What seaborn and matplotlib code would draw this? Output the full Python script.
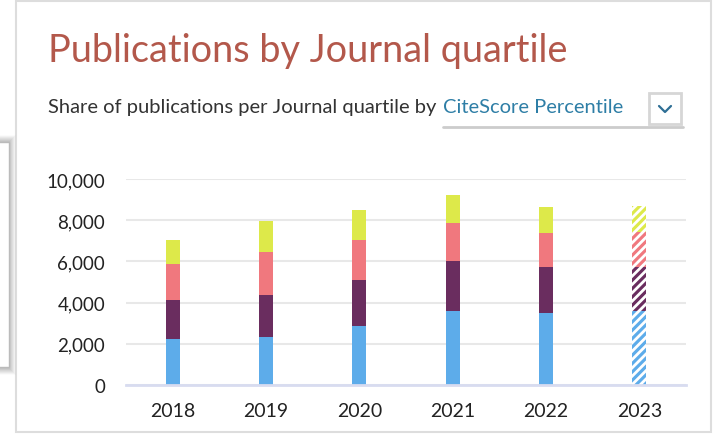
import numpy as np
import pandas as pd
import matplotlib.pyplot as plt
from matplotlib.patches import Rectangle
import matplotlib.lines as mlines
import seaborn as sns

# data
years = ['2018', '2019', '2020', '2021', '2022', '2023']
q1 = [2220, 2350, 2880, 3590, 3510, 3590]
q2 = [1890, 2020, 2220, 2410, 2230, 2150]
q3 = [1760, 2100, 1960, 1850, 1640, 1700]
q4 = [1180, 1500, 1440, 1370, 1250, 1250]
quartiles = ['Q1', 'Q2', 'Q3', 'Q4']
colors = ['#5dacea', '#6a2d5f', '#f0787e', '#dde94a']
yticks = [0, 2000, 4000, 6000, 8000, 10000]

sns.set_theme(style='white')
plt.rcParams['font.family'] = ['Lato', 'DejaVu Sans']
plt.rcParams['hatch.linewidth'] = 2.0

df = pd.DataFrame({'year': years, 'Q1': q1, 'Q2': q2, 'Q3': q3, 'Q4': q4})
cum = df[quartiles].cumsum(axis=1)

W, H = 713, 435
fig = plt.figure(figsize=(W / 100, H / 100), dpi=100)
fig.patch.set_facecolor('white')

ax = fig.add_axes([126 / W, 1 - 386 / H, 560 / W, 206 / H])

# stacked bars: draw the cumulative totals from top down
for q, c in reversed(list(zip(quartiles, colors))):
    sns.barplot(x=df['year'], y=cum[q], color=c, width=0.15, saturation=1,
                ax=ax, linewidth=0, edgecolor='none')

# 2023 is partial -> hatched
for p in ax.patches:
    if abs(p.get_x() + p.get_width() / 2 - 5) < 0.01:
        p.set_hatch('////')
        p.set_edgecolor('white')
        p.set_linewidth(0)

ax.set_xlim(-0.5, 5.5)
ax.set_ylim(0, 10000)
ax.set_yticks(yticks)
ax.set_yticklabels([f'{v:,}' for v in yticks])
ax.set_xlabel('')
ax.set_ylabel('')
ax.grid(axis='y', color='#e8e8e8', linewidth=1.5)
ax.set_axisbelow(True)
for s in ['top', 'right', 'left']:
    ax.spines[s].set_visible(False)
ax.spines['bottom'].set_color('#d8dcf0')
ax.spines['bottom'].set_linewidth(2)
ax.tick_params(axis='y', length=0, pad=15, labelsize=13.5, labelcolor='#222222')
ax.tick_params(axis='x', length=0, pad=12, labelsize=14, labelcolor='#222222')

# card border
fig.add_artist(Rectangle((16 / W, 1 - 433 / H), (711 - 16) / W, (433 - 2) / H,
                         transform=fig.transFigure, fill=False,
                         edgecolor='#dddddd', linewidth=1.5))

# partial card on the left with a soft shadow
for i, a in enumerate(np.linspace(0.35, 0.03, 7)):
    fig.add_artist(Rectangle((-10 / W, 1 - (369 + i) / H), (19 + i) / W, (226 + 2 * i) / H,
                             transform=fig.transFigure, facecolor='none',
                             edgecolor=(0.5, 0.5, 0.5, a), linewidth=1.2))
fig.add_artist(Rectangle((-10 / W, 1 - 368 / H), 19 / W, 225 / H,
                         transform=fig.transFigure, facecolor='white',
                         edgecolor='#bbbbbb', linewidth=1))

# titles
fig.text(48 / W, 1 - 62 / H, 'Publications by Journal quartile', color='#b3584b',
         fontsize=27.3, va='baseline', ha='left')
fig.text(48 / W, 1 - 113 / H, 'Share of publications per Journal quartile by',
         color='#333333', fontsize=14.5, va='baseline', ha='left')
fig.text(443 / W, 1 - 113 / H, 'CiteScore Percentile', color='#2e7ea6',
         fontsize=14.5, va='baseline', ha='left')
fig.add_artist(mlines.Line2D([443 / W, 683 / W], [1 - 128 / H, 1 - 128 / H],
                             color='#cccccc', linewidth=2, transform=fig.transFigure))
# dropdown box
fig.add_artist(Rectangle((649 / W, 1 - 125 / H), 32 / W, 31 / H,
                         transform=fig.transFigure, facecolor='white',
                         edgecolor='#d6d6d6', linewidth=2))
fig.add_artist(mlines.Line2D([659 / W, 665 / W, 671 / W],
                             [1 - 107 / H, 1 - 113 / H, 1 - 107 / H],
                             color='#2e6f95', linewidth=1.6, transform=fig.transFigure))

fig.savefig('out.png', dpi=100)
